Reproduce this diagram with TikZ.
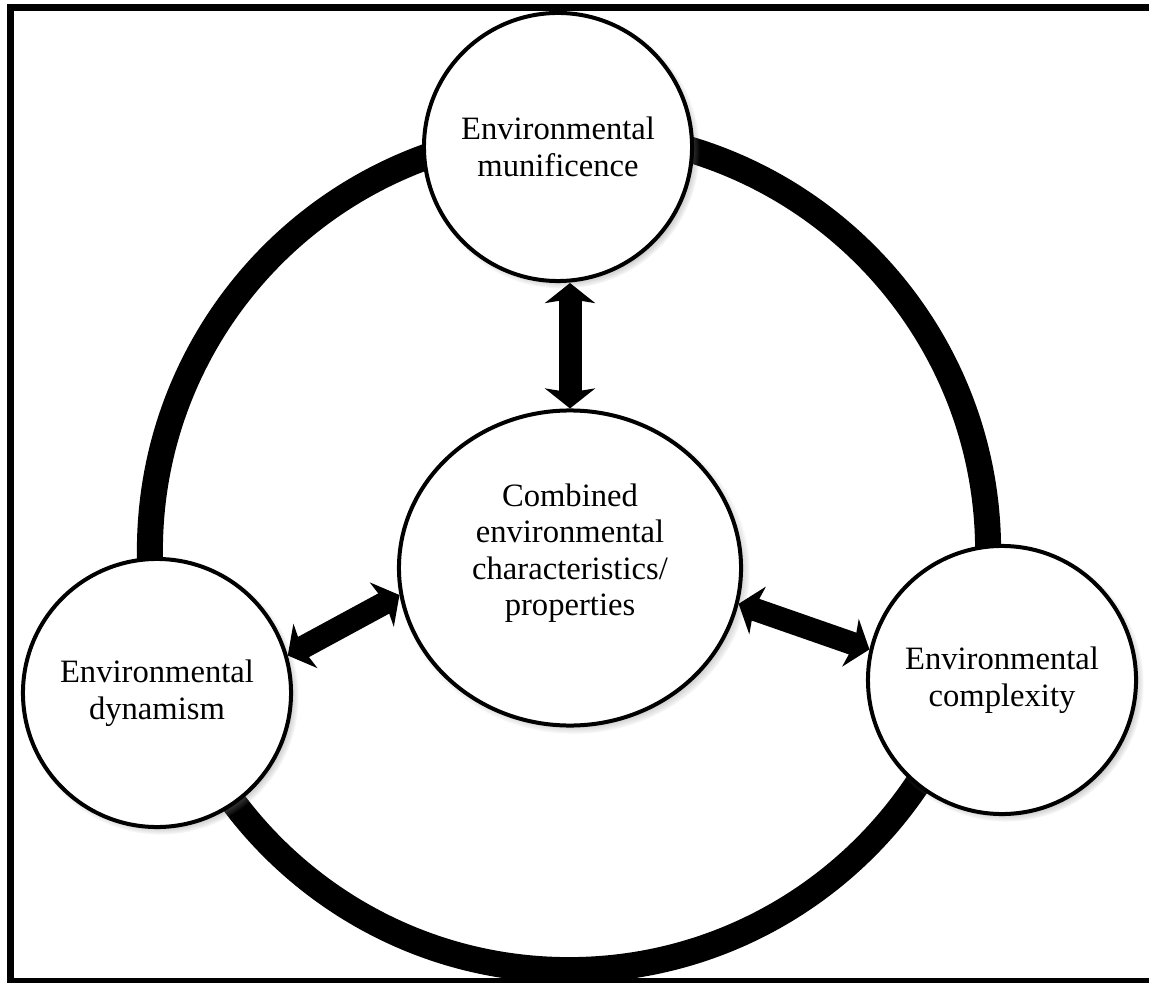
\documentclass[tikz,border=0pt]{standalone}
\usepackage{fontspec}
\setmainfont{Liberation Serif}
\usetikzlibrary{arrows.meta,shapes.geometric,shadows}

\begin{document}
\begin{tikzpicture}[x=0.025cm, y=-0.025cm, font=\fontsize{23.2}{26}\selectfont,
  shade/.style={circular drop shadow={shadow xshift=2.5pt, shadow yshift=-2.5pt, shadow scale=1.03}},
  blob/.style={circle, draw, line width=0.1cm, fill=white, minimum size=6.7cm, inner sep=0pt, align=center, shade},
  ring/.style={line width=0.65cm, preaction={draw, black!20, transform canvas={xshift=2pt, yshift=-2pt}}},
  tip/.tip={Stealth[length=0.5cm, width=1.25cm, inset=0.1cm]},
  link/.style={line width=0.575cm, tip-tip}]
\useasboundingbox (0,0) rectangle (1149,983);
\draw[line width=0.175cm] (10.5,7.5) rectangle (1200,981.5);
\draw[ring] (569,551) circle[radius=10.475cm];
\node[blob] (muni) at (558,147) {Environmental\\munificence};
\node[blob] (dyn) at (157,693) {Environmental\\dynamism};
\node[blob] (cplx) at (1002,680) {Environmental\\complexity};
\node[ellipse, draw, line width=0.1cm, fill=white, minimum width=8.55cm, minimum height=7.875cm, shade] (comb) at (570,568) {};
\node[align=center] (combtxt) at (570,553) {Combined\\environmental\\characteristics/\\properties};
\draw[link] (comb.north |- muni.south) -- (comb.north);
\draw[link] (dyn.16) -- (comb.189);
\draw[link] (comb.348) -- (cplx.167);
\end{tikzpicture}
\end{document}
